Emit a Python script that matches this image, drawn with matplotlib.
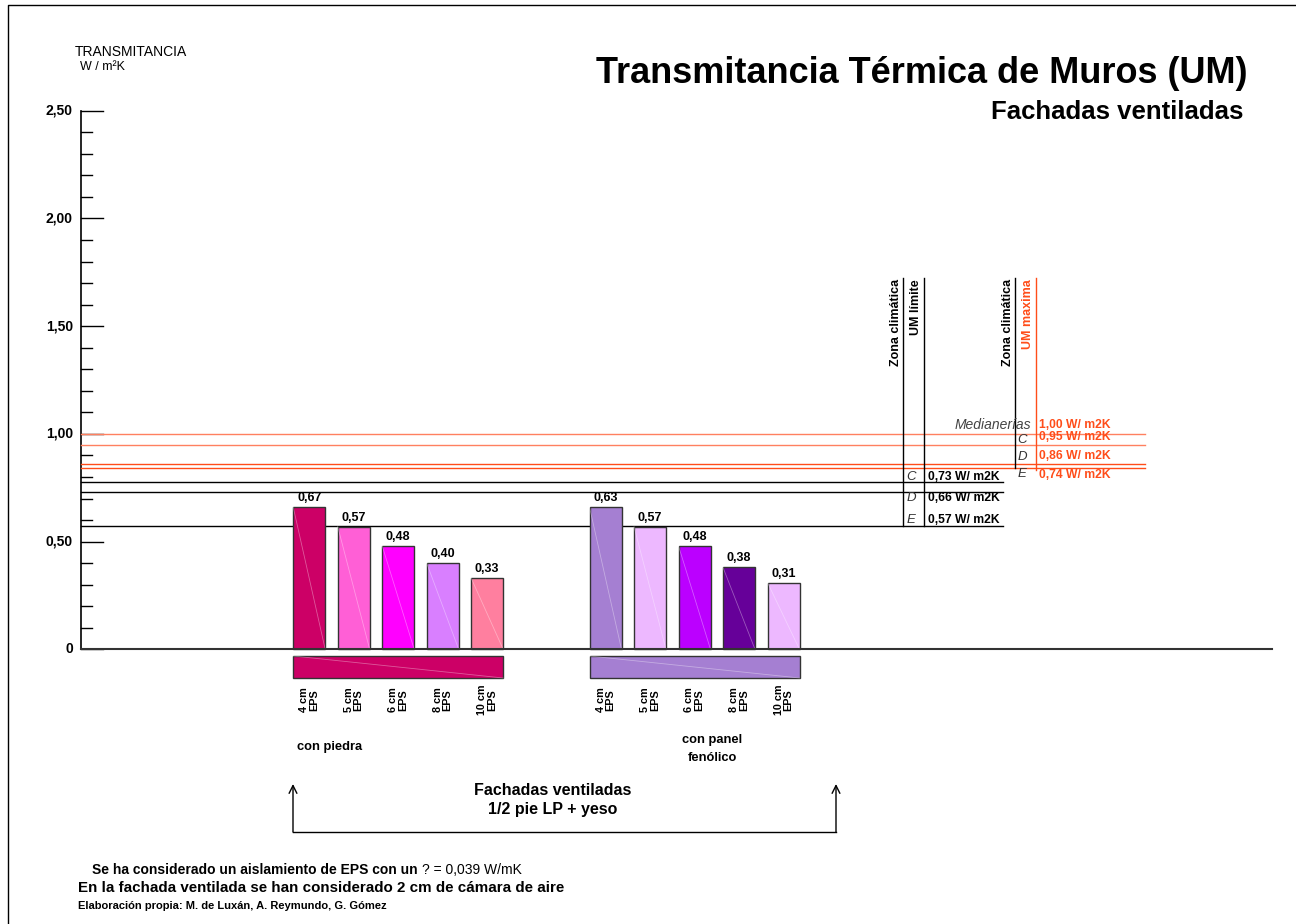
import matplotlib
matplotlib.use("Agg")
import matplotlib.pyplot as plt
from matplotlib.lines import Line2D
from matplotlib.transforms import Affine2D

plt.rcParams["font.family"] = ["Liberation Sans", "DejaVu Sans"]

# ---- data ----
espesores = ["4 cm\nEPS", "5 cm\nEPS", "6 cm\nEPS", "8 cm\nEPS", "10 cm\nEPS"]
grupos = ["con piedra", "con panel\nfenólico"]

valores_piedra = [0.67, 0.57, 0.48, 0.40, 0.33]
valores_panel = [0.63, 0.57, 0.48, 0.38, 0.31]
# bar heights as drawn in the original (first panel bar is drawn at ~0.66)
alturas_piedra = [0.66, 0.57, 0.48, 0.40, 0.33]
alturas_panel = [0.66, 0.57, 0.48, 0.38, 0.31]

colores_piedra = ["#CC0066", "#FF5FD6", "#FF00FF", "#D97FFF", "#FF7F9F"]
colores_panel = ["#A57FD2", "#EDB8FF", "#BB00FF", "#660099", "#EDB8FF"]

zonas_limite = ["C", "D", "E"]
textos_limite = ["0,73 W/ m2K", "0,66 W/ m2K", "0,57 W/ m2K"]
lineas_limite = [0.777, 0.730, 0.571]   # where the lines sit in the drawing

zonas_maxima = ["Medianerías", "C", "D", "E"]
textos_maxima = ["1,00 W/ m2K", "0,95 W/ m2K", "0,86 W/ m2K", "0,74 W/ m2K"]
lineas_maxima = [1.00, 0.95, 0.86, 0.842]
colores_maxima = ["#FF8060", "#FF8060", "#FF4D1A", "#FF4D1A"]

y_ticks = [0, 0.5, 1.0, 1.5, 2.0, 2.5]
y_ticklabels = ["0", "0,50", "1,00", "1,50", "2,00", "2,50"]

# ---- layout (pixels of a 1296x924 canvas) ----
W, H = 1296, 924
Y0, PX_PER_UNIT = 649.3, 215.4
ORANGE = "#FF4D1A"

fig = plt.figure(figsize=(W / 100, H / 100), dpi=100)
ax = fig.add_axes([0, 0, 1, 1])
ax.set_xlim(0, W)
ax.set_ylim((Y0 - H) / PX_PER_UNIT, Y0 / PX_PER_UNIT)
ax.axis("off")

# pixel transform: x from left, y from top
pix = Affine2D().scale(1 / W, -1 / H).translate(0, 1) + fig.transFigure

# page frame (left + top)
fig.add_artist(Line2D([8, 8, W], [H, 5, 5], transform=pix, color="black", lw=1))

# y axis with ticks every 0.1
x_axis = 81
ax.plot([x_axis, x_axis], [0, 2.5], color="black", lw=1.2)
for i in range(26):
    v = i / 10
    long_tick = i % 5 == 0
    ax.plot([x_axis, x_axis + (22 if long_tick else 11)], [v, v], color="black", lw=1)
for v, lab in zip(y_ticks, y_ticklabels):
    ax.text(73, v, lab, ha="right", va="center", fontsize=10, fontweight="bold")

# reference lines
for v, c in zip(lineas_maxima, colores_maxima):
    ax.plot([x_axis, 1145], [v, v], color=c, lw=1)
for v in lineas_limite:
    ax.plot([x_axis, 1003], [v, v], color="black", lw=1)

# baseline
ax.plot([x_axis, 1272], [0, 0], color="#333333", lw=1.5, zorder=4)

# vertical rules for the limit columns
top_rule = (Y0 - 278) / PX_PER_UNIT
ax.plot([903, 903], [top_rule, lineas_limite[2]], color="black", lw=1)
ax.plot([924, 924], [top_rule, lineas_limite[2]], color="black", lw=1)
ax.plot([1015, 1015], [top_rule, lineas_maxima[3]], color="black", lw=1)
ax.plot([1036, 1036], [top_rule, (Y0 - 470) / PX_PER_UNIT], color=ORANGE, lw=1)

for x, txt, col in [(896, "Zona climática", "black"), (916, "UM límite", "black"),
                    (1008, "Zona climática", "black"), (1028, "UM maxima", ORANGE)]:
    ax.text(x, 279, txt, transform=pix, rotation=90, ha="center", va="top",
            fontsize=9, fontweight="bold", color=col)

# limit labels
for z, t, yp in zip(zonas_limite, textos_limite, [477, 498, 520]):
    ax.text(911, yp, z, transform=pix, ha="center", va="center", fontsize=9.5,
            style="italic", color="#333333")
    ax.text(928, yp, t, transform=pix, ha="left", va="center", fontsize=8.7,
            fontweight="bold")
for z, t, yz, yt in zip(zonas_maxima, textos_maxima, [425, 440, 457, 474], [425, 437, 456, 475]):
    if z == "Medianerías":
        ax.text(1031, yz, z, transform=pix, ha="right", va="center", fontsize=10,
                style="italic", color="#444444")
    else:
        ax.text(1022, yz, z, transform=pix, ha="center", va="center", fontsize=9.5,
                style="italic", color="#333333")
    ax.text(1039, yt, t, transform=pix, ha="left", va="center", fontsize=8.7,
            fontweight="bold", color=ORANGE)

# bars
bar_w, step = 32, 44.5
starts = [309.2, 605.5]
strip_top, strip_bot = (Y0 - 656) / PX_PER_UNIT, (Y0 - 678) / PX_PER_UNIT
for x0, alturas, valores, colores in zip(starts, [alturas_piedra, alturas_panel],
                                         [valores_piedra, valores_panel],
                                         [colores_piedra, colores_panel]):
    xs = [x0 + i * step for i in range(len(alturas))]
    ax.bar(xs, alturas, width=bar_w, color=colores, edgecolor="#333333", lw=1, zorder=3)
    for x, h, v, lab in zip(xs, alturas, valores, espesores):
        ax.plot([x - bar_w / 2, x + bar_w / 2], [h, 0], color="white", lw=0.6,
                alpha=0.35, zorder=3.5)
        ax.text(x, h + 3 / PX_PER_UNIT, f"{v:.2f}".replace(".", ","), ha="center",
                va="bottom", fontsize=9, fontweight="bold")
        ax.text(x, 700, lab, transform=pix, rotation=90, ha="center", va="center",
                multialignment="center", fontsize=7.8, fontweight="bold",
                linespacing=1.0)
    # group strip below the axis
    left, right = xs[0] - bar_w / 2, xs[-1] + bar_w / 2
    ax.bar((left + right) / 2, strip_bot - strip_top, bottom=strip_top, width=right - left,
           color=colores[0], edgecolor="#333333", lw=1, zorder=3)
    ax.plot([left, right], [strip_top, strip_bot], color="white", lw=0.6, alpha=0.35,
            zorder=3.5)

ax.text(297, 747, grupos[0], transform=pix, ha="left", va="center", fontsize=9.3,
        fontweight="bold")
ax.text(712, 749, grupos[1], transform=pix, ha="center", va="center", fontsize=9.3,
        fontweight="bold", linespacing=1.6)

# bracket with arrows
fig.add_artist(Line2D([293, 836], [832, 832], transform=pix, color="black", lw=1))
for xa in (293, 836):
    ax.annotate("", xy=(xa, 784), xytext=(xa, 832), xycoords=pix, textcoords=pix,
                arrowprops=dict(arrowstyle="->", lw=1, color="black",
                                shrinkA=0, shrinkB=0, mutation_scale=14))
ax.text(553, 800, "Fachadas ventiladas\n1/2 pie LP + yeso", transform=pix, ha="center",
        va="center", fontsize=11.5, fontweight="bold", linespacing=1.4)

# titles
ax.text(75, 52, "TRANSMITANCIA", transform=pix, ha="left", va="center", fontsize=10)
ax.text(80, 67, "W / m²K", transform=pix, ha="left", va="center", fontsize=9)
ax.text(1247, 83, "Transmitancia Térmica de Muros (UM)", transform=pix, ha="right",
        va="baseline", fontsize=26, fontweight="bold")
ax.text(1243, 119, "Fachadas ventiladas", transform=pix, ha="right", va="baseline",
        fontsize=18.5, fontweight="bold")

# footnotes
t1 = ax.text(92, 870, "Se ha considerado un aislamiento de EPS con un", transform=pix,
             ha="left", va="center", fontsize=10, fontweight="bold")
fig.canvas.draw()
bb = t1.get_window_extent()
ax.text(bb.x1 + 4, 870, "? = 0,039 W/mK", transform=pix, ha="left", va="center",
        fontsize=10)
ax.text(78, 888, "En la fachada ventilada se han considerado 2 cm de cámara de aire",
        transform=pix, ha="left", va="center", fontsize=10.9, fontweight="bold")
ax.text(78, 906, "Elaboración propia: M. de Luxán, A. Reymundo, G. Gómez", transform=pix,
        ha="left", va="center", fontsize=8, fontweight="bold")

fig.savefig("out.png", dpi=100)
